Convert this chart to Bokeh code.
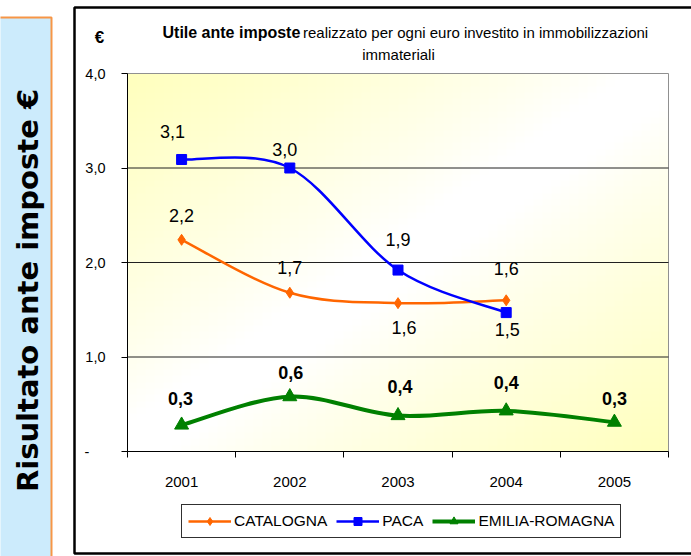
import numpy as np
from bokeh.plotting import figure
from bokeh.models import (Range1d, FixedTicker, ColumnDataSource, LabelSet, Label,
                          Legend, LegendItem)
from bokeh.core.properties import value
from bokeh.embed import file_html
from bokeh.resources import INLINE

# ---------------- data ----------------
years = ["2001", "2002", "2003", "2004", "2005"]
catalogna = [2.24, 1.68, 1.57, 1.60]
paca = [3.09, 3.00, 1.92, 1.47]
emilia_romagna = [0.28, 0.58, 0.38, 0.43, 0.31]
y_ticks = [0, 1, 2, 3, 4]
y_tick_labels = ["-", "1,0", "2,0", "3,0", "4,0"]
series_names = ["CATALOGNA", "PACA", "EMILIA-ROMAGNA"]
title_bold = "Utile ante imposte"
title_rest = "realizzato per ogni euro investito in immobilizzazioni"
title_line2 = "immateriali"
side_title = "Risultato ante imposte €"
unit_label = "€"

# ---------------- styles / layout ----------------
SANS = "Liberation Sans"
colors = ["#FF6600", "#0000FF", "#008000"]
markers = ["diamond", "square", "triangle"]
marker_sizes = [11, 10, 14]
line_widths = [2.5, 2.5, 4]
label_bold = [False, False, True]
label_x_off = [[0, 0, 6, 0], [-9, -5, 0, 1], [-1, 1, 2, 0, 0]]
label_y_off = [[24, 25, -24, 32], [28, 19, 31, -17], [27, 24, 29, 28, 24]]
BOX_COLOR = "#000000"

W, H = 691, 556
PLOT_L, PLOT_R, PLOT_T, PLOT_B = 127, 668, 73, 451      # plot area in pixels
X_LO, X_HI = 0.5, len(years) + 0.5
Y_LO, Y_HI = y_ticks[0], y_ticks[-1]
PXX = (PLOT_R - PLOT_L) / (X_HI - X_LO)
PXY = (PLOT_B - PLOT_T) / (Y_HI - Y_LO)


def dx(px):
    return X_LO + (px - PLOT_L) / PXX


def dy(py):
    return Y_LO + (PLOT_B - py) / PXY


p = figure(width=W, height=H, title=None,
           x_range=Range1d(dx(0), dx(W)), y_range=Range1d(dy(H), dy(0)),
           output_backend="svg", toolbar_location=None, min_border=0)
p.background_fill_color = "white"
p.border_fill_color = "white"
p.outline_line_color = None

# ---- decorations: blue side panel and chart box ----
p.quad(left=[dx(-5)], right=[dx(51)], top=[dy(17)], bottom=[dy(H + 5)],
       fill_color="#CCEBFC", line_color="#F79646", line_width=2, level="underlay")
p.quad(left=[dx(74)], right=[dx(W + 20)], top=[dy(7)], bottom=[dy(553)],
       fill_color=None, line_color=BOX_COLOR, line_width=2.5, level="underlay")

# gradient background of the plot area
n = 60
jj, ii = np.meshgrid(np.linspace(0, 1, n), np.linspace(0, 1, n))
t = (jj + (1 - ii)) / 2.0
s = np.clip((np.abs(2 * t - 1) - 0.08) / 0.92, 0, 1) ** 0.85
img = np.zeros((n, n, 4), dtype=np.uint8)
img[..., 0] = 255
img[..., 1] = 255
img[..., 2] = (255 - s * 65).astype(np.uint8)
img[..., 3] = 255
p.image_rgba(image=[img.view(dtype=np.uint32).reshape((n, n))], x=X_LO, y=Y_LO,
             dw=X_HI - X_LO, dh=Y_HI - Y_LO, level="image")

# plot-area border (grey) and horizontal gridlines
p.quad(left=[X_LO], right=[X_HI], bottom=[Y_LO], top=[Y_HI], fill_color=None,
       line_color="#909090", line_width=1, level="underlay")
grid_y = y_ticks[1:-1]
p.segment(x0=[X_LO] * len(grid_y), x1=[X_HI] * len(grid_y), y0=grid_y, y1=grid_y,
          line_color="#202020", line_width=1, level="underlay")
p.grid.visible = False

# axes drawn at fixed data locations
p.xaxis.fixed_location = Y_LO
p.xaxis.bounds = (X_LO, X_HI)
p.xaxis.ticker = FixedTicker(ticks=list(range(1, len(years) + 1)),
                             minor_ticks=[i + 0.5 for i in range(len(years) + 1)])
p.xaxis.major_label_overrides = {i + 1: yr for i, yr in enumerate(years)}
p.xaxis.major_tick_in = 0
p.xaxis.major_tick_out = 0
p.xaxis.major_tick_line_color = None
p.xaxis.minor_tick_in = 0
p.xaxis.minor_tick_out = 6
p.xaxis.minor_tick_line_color = "black"
p.xaxis.major_label_standoff = 19
p.xaxis.major_label_text_font = SANS
p.xaxis.major_label_text_font_size = "15px"
p.xaxis.major_label_text_color = "black"
p.xaxis.axis_line_color = "black"

ylab = {}
for tk, lb in zip(y_ticks, y_tick_labels):
    ylab[tk] = lb + "\u00a0" * 4 if lb == "-" else lb
p.yaxis.fixed_location = X_LO
p.yaxis.bounds = (Y_LO, Y_HI)
p.yaxis.ticker = FixedTicker(ticks=y_ticks, minor_ticks=[])
p.yaxis.major_label_overrides = ylab
p.yaxis.major_tick_in = 0
p.yaxis.major_tick_out = 6
p.yaxis.major_tick_line_color = "black"
p.yaxis.major_label_standoff = 16
p.yaxis.major_label_text_font = SANS
p.yaxis.major_label_text_font_size = "14.5px"
p.yaxis.major_label_text_color = "black"
p.yaxis.axis_line_color = "black"


def bezier_segments(xs, ys, k=6.0):
    pts = list(zip(xs, ys))
    m = len(pts)
    d = dict(x0=[], y0=[], x1=[], y1=[], cx0=[], cy0=[], cx1=[], cy1=[])
    for i in range(m - 1):
        p0 = pts[i - 1] if i > 0 else pts[i]
        p1 = pts[i]
        p2 = pts[i + 1]
        p3 = pts[i + 2] if i + 2 < m else pts[i + 1]
        d["x0"].append(p1[0]); d["y0"].append(p1[1])
        d["x1"].append(p2[0]); d["y1"].append(p2[1])
        d["cx0"].append(p1[0] + (p2[0] - p0[0]) / k)
        d["cy0"].append(p1[1] + (p2[1] - p0[1]) / k)
        d["cx1"].append(p2[0] - (p3[0] - p1[0]) / k)
        d["cy1"].append(p2[1] - (p3[1] - p1[1]) / k)
    return d


items = []
for si, vals in enumerate([catalogna, paca, emilia_romagna]):
    xs = list(range(1, len(vals) + 1))
    bsrc = ColumnDataSource(bezier_segments(xs, vals))
    bz = p.bezier(x0="x0", y0="y0", x1="x1", y1="y1", cx0="cx0", cy0="cy0",
                  cx1="cx1", cy1="cy1", source=bsrc, line_color=colors[si],
                  line_width=line_widths[si])
    sc = p.scatter(x=xs, y=vals, marker=markers[si], size=marker_sizes[si],
                   fill_color=colors[si], line_color=colors[si])
    items.append(LegendItem(label=series_names[si], renderers=[bz, sc]))
    lsrc = ColumnDataSource(dict(
        x=xs, y=vals, text=[f"{v:.1f}".replace(".", ",") for v in vals],
        xo=label_x_off[si], yo=label_y_off[si]))
    p.add_layout(LabelSet(x="x", y="y", text="text", x_offset="xo", y_offset="yo",
                          source=lsrc, text_align="center", text_baseline="middle",
                          text_font=value(SANS), text_font_size=value("18px"),
                          text_font_style="bold" if label_bold[si] else "normal",
                          text_color="black"))

# legend: bottom-left corner in screen px from the frame's bottom-left
legend = Legend(items=items, orientation="horizontal", location=(181, H - 538),
                label_text_font=SANS, label_text_font_size="15.5px",
                label_text_color="black", border_line_color="#303030",
                border_line_alpha=1, border_line_width=1,
                background_fill_color="white", background_fill_alpha=1,
                padding=6, margin=0, spacing=9,
                label_standoff=3, glyph_width=43, glyph_height=20)
p.add_layout(legend)

# ---- texts ----
p.add_layout(Label(x=dx(27), y=dy(290), text=side_title, angle=90, angle_units="deg",
                   text_align="center", text_baseline="middle",
                   text_font="DejaVu Sans", text_font_style="bold",
                   text_font_size="29px", text_color="black"))
p.add_layout(Label(x=dx(99), y=dy(37), text=unit_label, text_align="center",
                   text_baseline="middle", text_font=SANS, text_font_style="bold",
                   text_font_size="17px", text_color="black"))
p.add_layout(Label(x=dx(162), y=dy(32), text=title_bold, text_align="left",
                   text_baseline="alphabetic", text_font=SANS,
                   text_font_style="bold", text_font_size="16px", text_color="black"))
p.add_layout(Label(x=dx(302.5), y=dy(32), text=title_rest, text_align="left",
                   text_baseline="alphabetic", text_font=SANS,
                   text_font_size="15px", text_color="black"))
p.add_layout(Label(x=dx(398), y=dy(54), text=title_line2, text_align="center",
                   text_baseline="alphabetic", text_font=SANS,
                   text_font_size="15px", text_color="black"))

open("out.html", "w").write(file_html(p, INLINE))
